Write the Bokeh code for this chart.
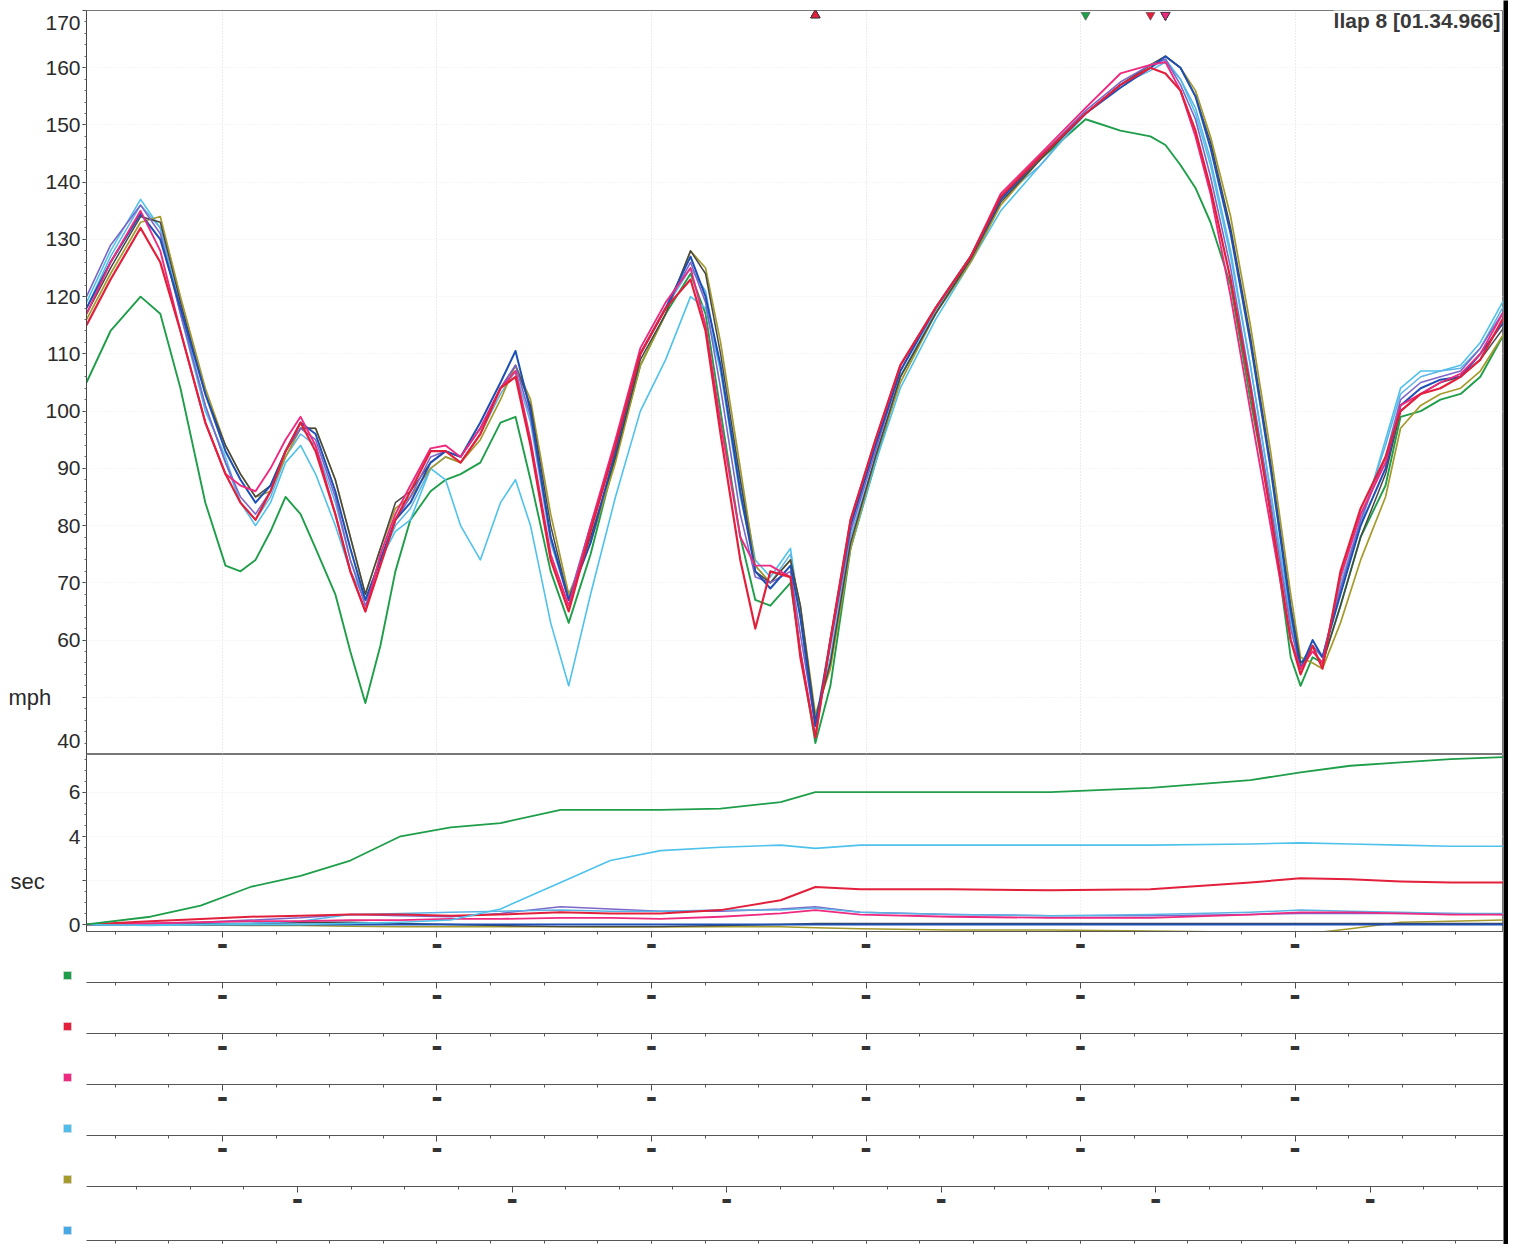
import numpy as np
from bokeh.plotting import figure
from bokeh.layouts import column, row
from bokeh.models import Range1d, FixedTicker, SingleIntervalTicker, Label
from bokeh.core.properties import value
from bokeh.embed import file_html
from bokeh.resources import INLINE

# ---------------- data ----------------
# distance along the lap (m) for the speed traces
dist = [0, 56, 126, 172, 219, 277, 324, 359, 394, 429,
        464, 499, 534, 580, 615, 650, 685, 720, 755, 802,
        837, 872, 918, 965, 1000, 1035, 1082, 1124, 1175, 1233,
        1291, 1350, 1408, 1443, 1478, 1524, 1559, 1594, 1641, 1664,
        1699, 1734, 1781, 1839, 1897, 1979, 2061, 2131, 2224, 2329,
        2410, 2480, 2515, 2550, 2585, 2620, 2667, 2713, 2760, 2807,
        2830, 2858, 2881, 2923, 2970, 3028, 3063, 3110, 3156, 3203,
        3249, 3308]

spd_blue = [118, 126, 134.5, 130, 118, 103, 93, 88, 84, 87,
            93, 98, 96, 86, 76, 67, 74, 81, 84, 91,
            93, 92, 98, 105, 110.5, 100, 78, 67, 77, 93,
            110, 118, 127, 120, 108, 86, 72, 69, 73, 64,
            45, 60, 80, 94, 107, 118, 127, 137, 144.5, 152,
            156.5, 160, 162, 160, 155, 146, 131, 112, 90, 65,
            55, 60, 57, 68, 80, 90, 101, 104, 105.5, 106,
            110, 116]
spd_green = [105, 114, 120, 117, 104, 84, 73, 72, 74, 79,
             85, 82, 76, 68, 58, 49, 59, 72, 81, 86,
             88, 89, 91, 98, 99, 88, 72, 63, 75, 92,
             108, 117, 124, 117, 100, 78, 67, 66, 70, 58,
             42, 52, 76, 91, 106, 117, 127, 137, 144, 151,
             149, 148, 146.5, 143, 139, 133, 122, 102, 83, 57,
             52, 57, 56, 66, 78, 87, 99, 100, 102, 103,
             106, 114]
spd_red = [115, 123, 132, 126, 114, 98, 89, 84, 81, 86,
           93, 98, 93, 82, 72, 65, 73, 81, 86, 93,
           93, 91, 96, 104, 106, 94, 74, 65, 79, 94,
           110, 118, 123, 114, 96, 74, 62, 72, 71, 57,
           43, 60, 81, 95, 108, 118, 127, 137.5, 144.5, 152,
           157, 160, 159, 156, 149, 139, 123, 104, 82, 60,
           54, 59, 55, 72, 83, 92, 100, 103, 104, 106,
           109, 117]
spd_pink = [117, 126, 135, 128, 114, 98, 89, 87, 86, 90,
            95, 99, 94, 82, 72, 65, 75, 82, 87, 93.5,
            94, 92, 97, 104, 107, 95, 75, 66, 80, 95,
            111, 119, 125, 115, 98, 78, 73, 73, 71, 58,
            43, 60, 81, 95, 108, 118, 127, 138, 145, 153,
            159, 160.5, 161, 156, 148, 138, 120, 100, 80, 60,
            55, 58, 56, 71, 82, 91, 101, 103, 105, 106.5,
            110, 118]
spd_cyan = [119, 128, 137, 132, 117, 100, 92, 84, 80, 84,
            91, 94, 89, 80, 72, 67, 74, 79, 81, 90,
            88, 80, 74, 84, 88, 80, 63, 52, 68, 85,
            100, 109, 120, 118, 107, 88, 74, 71, 76, 64,
            46, 56, 76, 91, 104, 116, 126, 135, 143, 152,
            157, 160, 161.5, 158, 152, 143, 127, 108, 86, 64,
            56, 59, 57, 69, 80, 95, 104, 107, 107, 108,
            112, 120]
spd_olive = [116, 124, 133, 134, 120, 104, 94, 89, 85, 86,
             92, 97, 97, 88, 78, 68, 76, 83, 85, 90,
             92, 91, 95, 102, 108, 102, 82, 68, 77, 91,
             108, 117, 128, 125, 112, 90, 73, 70, 74, 66,
             47, 55, 76, 92, 105, 117, 126, 136, 144, 152,
             157, 160.5, 162, 160, 156, 148, 134, 115, 93, 68,
             57, 56, 55, 63, 74, 85, 97, 101, 103, 104,
             107, 114]
spd_purple = [120, 129, 136, 131, 117, 101, 91, 85, 82, 86,
              93, 97, 95, 85, 74, 66, 74, 81, 85, 92,
              93, 92, 97, 104, 108, 99, 78, 67, 80, 94,
              110, 118, 126, 119, 104, 82, 71, 70, 72, 61,
              45, 59, 79, 93, 107, 118, 127, 137, 144.5, 152.5,
              157.5, 160.5, 161.5, 157, 151, 141, 125, 105, 84, 62,
              55, 59, 57, 69, 81, 92, 102, 105, 106, 107,
              111, 118]
spd_dark = [117, 125, 134, 133, 119, 103, 94, 89, 85, 87,
            93, 97, 97, 88, 78, 68, 76, 84, 86, 91,
            93, 92, 97, 104, 108, 101, 80, 67, 78, 92,
            109, 117, 128, 124, 110, 88, 72, 70, 74, 66,
            46, 56, 77, 92, 106, 117, 126.5, 136.5, 144, 152,
            157, 160.5, 162, 160, 155, 147, 132, 113, 91, 66,
            56, 58, 56, 66, 78, 89, 100, 103, 105, 106,
            109, 115]
spd_sky = [118, 127, 136, 132, 118, 101, 91, 84, 81, 85,
           92, 96, 94, 84, 74, 67, 74, 80, 83, 90,
           92, 91, 96, 103, 107, 98, 77, 67, 80, 94,
           110, 118, 125, 121, 107, 85, 73, 70, 75, 64,
           45, 57, 78, 92, 106, 117.5, 127, 137, 143, 152,
           157, 159.5, 161, 158, 153, 144, 128, 108, 86, 63,
           55, 59, 57, 70, 81, 94, 103, 106, 107, 107.5,
           111, 119]

# time difference to the reference lap (s)
sec_dist = [0, 149, 266, 382, 499, 615, 732, 849, 965, 1105,
            1221, 1338, 1478, 1618, 1699, 1804, 2014, 2247, 2480, 2713,
            2830, 2946, 3063, 3180, 3308]
sec_green = [0, 0.35, 0.85, 1.7, 2.2, 2.9, 4.0, 4.4, 4.6, 5.2,
             5.2, 5.2, 5.25, 5.55, 6.0, 6.0, 6.0, 6.0, 6.2, 6.55,
             6.9, 7.2, 7.35, 7.5, 7.6]
sec_cyan = [0, -0.05, 0, 0, 0, 0.05, 0.1, 0.2, 0.7, 1.9,
            2.9, 3.35, 3.5, 3.6, 3.45, 3.6, 3.6, 3.6, 3.6, 3.65,
            3.7, 3.65, 3.6, 3.55, 3.55]
sec_red = [0, 0.15, 0.25, 0.35, 0.4, 0.45, 0.45, 0.4, 0.45, 0.55,
           0.5, 0.5, 0.65, 1.1, 1.7, 1.6, 1.6, 1.55, 1.6, 1.9,
           2.1, 2.05, 1.95, 1.9, 1.9]
sec_pink = [0, 0.05, 0.1, 0.15, 0.15, 0.2, 0.2, 0.25, 0.25, 0.3,
            0.3, 0.25, 0.35, 0.5, 0.65, 0.45, 0.35, 0.3, 0.3, 0.45,
            0.55, 0.55, 0.5, 0.45, 0.45]
sec_sky = [0, 0, 0, 0.05, 0.15, 0.45, 0.5, 0.55, 0.6, 0.65,
           0.6, 0.6, 0.65, 0.65, 0.75, 0.55, 0.45, 0.4, 0.45, 0.55,
           0.65, 0.6, 0.55, 0.5, 0.5]
sec_purple = [0, 0.05, 0.1, 0.2, 0.3, 0.45, 0.4, 0.35, 0.5, 0.8,
              0.7, 0.6, 0.6, 0.7, 0.8, 0.55, 0.45, 0.4, 0.4, 0.45,
              0.5, 0.5, 0.5, 0.5, 0.45]
sec_dark = [0, 0, 0.05, 0.05, 0.1, 0.1, 0.05, 0, -0.05, -0.1,
            -0.1, -0.1, -0.05, 0, 0.05, 0.05, 0.05, 0.05, 0.05, 0.05,
            0.05, 0.05, 0.05, 0.05, 0.05]
sec_olive = [0, 0, -0.02, -0.05, -0.05, -0.08, -0.1, -0.1, -0.1, -0.1,
             -0.12, -0.12, -0.1, -0.1, -0.15, -0.2, -0.25, -0.25, -0.3, -0.35,
             -0.45, -0.2, 0.1, 0.15, 0.2]
sec_blue = [0, 0, 0, 0, 0, 0, 0, 0, 0, 0,
            0, 0, 0, 0, 0, 0, 0, 0, 0, 0,
            0, 0, 0, 0, 0]

lap_title = "llap 8 [01.34.966]"
speed_unit = "mph"
time_unit = "sec"
# speed tick labels (the end labels are drawn inset, as in the logger print-out)
speed_label_pos = [42.3, 60, 70, 80, 90, 100, 110, 120, 130, 140, 150, 160, 167.9]
speed_label_txt = ["40", "60", "70", "80", "90", "100", "110", "120", "130",
                   "140", "150", "160", "170"]
sec_label_pos = [0, 4, 6]
sec_label_txt = ["0", "4", "6"]
dist_major = [317, 817, 1317, 1817, 2317, 2817]
dist_major_shifted = [492, 992, 1492, 1992, 2492, 2992]
channel_rows = [0, 1, 2, 3, 4, 5]

# ---------------- style ----------------
FONT = "Liberation Sans"
TXT = "#2a2a2a"
X_END = 3303
GUT = 81
W = 1422
C = dict(green="#1f9e4a", red="#e3203c", pink="#ee2a80", cyan="#4fc2ec",
         olive="#a59a2c", blue="#1d4fb4", purple="#7c66c8", dark="#474747",
         sky="#5ab4e6")

minor_std = [67 + 125 * k for k in range(27)]
minor_shift = [117 + 125 * k for k in range(26)]
dash = "\u25ac"

xr = Range1d(0, X_END)
yr_speed = Range1d(40, 170)
yr_sec = Range1d(-0.32, 7.71)


def bare(fig):
    fig.xgrid.visible = False
    fig.ygrid.visible = False
    return fig


def style_yaxis(ax):
    ax.axis_line_color = "#444444"
    ax.major_tick_out = 4
    ax.major_tick_in = 0
    ax.minor_tick_out = 2
    ax.minor_tick_in = 0
    ax.major_tick_line_color = "#444444"
    ax.minor_tick_line_color = "#666666"
    ax.major_label_standoff = 0


def style_xaxis(ax, majors, minors, labels=True):
    ax.ticker = FixedTicker(ticks=majors if labels else [], minor_ticks=minors)
    ax.axis_line_color = "#555555"
    ax.major_tick_out = 6
    ax.major_tick_in = 0
    ax.minor_tick_out = 3
    ax.minor_tick_in = 0
    ax.major_tick_line_color = "#444444"
    ax.minor_tick_line_color = "#555555"
    ax.major_label_overrides = {m: dash for m in majors}
    ax.major_label_text_font = "DejaVu Sans"
    ax.major_label_text_font_size = "11px"
    ax.major_label_text_color = "#333333"
    ax.major_label_standoff = 1


# ---------------- speed panel ----------------
p1 = figure(width=W, height=754, x_range=xr, y_range=yr_speed,
            output_backend="svg", toolbar_location=None, x_axis_location=None,
            min_border_left=5, min_border_right=0, min_border_top=10,
            min_border_bottom=0, outline_line_color="#777777")
p1.yaxis.ticker = SingleIntervalTicker(interval=10, num_minor_ticks=5)
p1.yaxis.major_label_overrides = {v: "" for v in range(40, 180, 10)}
style_yaxis(p1.yaxis)
p1.xgrid.ticker = FixedTicker(ticks=dist_major)
p1.xgrid.grid_line_color = "#d8d8d8"
p1.xgrid.grid_line_dash = "1 2"
p1.ygrid.grid_line_color = "#ececec"
p1.ygrid.grid_line_dash = "1 2"

speed_traces = [(spd_green, C["green"], 1.9), (spd_cyan, C["cyan"], 1.6),
                (spd_sky, C["sky"], 1.5), (spd_olive, C["olive"], 1.7),
                (spd_dark, C["dark"], 1.5), (spd_purple, C["purple"], 1.6),
                (spd_blue, C["blue"], 2.0), (spd_pink, C["pink"], 1.9),
                (spd_red, C["red"], 2.2)]
for spd, col, lw in speed_traces:
    p1.line(dist, spd, line_color=col, line_width=lw, line_join="round")

for spd, col, lw in speed_traces:
    i_min = int(np.argmin(spd))
    i_max = int(np.argmax(spd))
    p1.scatter([dist[i_min]], [169.2], marker="triangle", size=9,
               fill_color=col, line_color="#333333", line_width=0.5)
    p1.scatter([dist[i_max]], [169.2], marker="inverted_triangle", size=9,
               fill_color=col, line_color="#333333", line_width=0.5)

p1.add_layout(Label(x=X_END, y=168.3, x_offset=-3, text=lap_title,
                    text_align="right", text_baseline="middle",
                    text_font=FONT, text_font_size="21px",
                    text_font_style="bold", text_color="#3a3a3a",
                    background_fill_color="white"))

# ---------------- time-difference panel ----------------
p2 = figure(width=W, height=200, x_range=xr, y_range=yr_sec,
            output_backend="svg", toolbar_location=None,
            min_border_left=5, min_border_right=0, min_border_top=0,
            min_border_bottom=22, outline_line_color="#777777")
p2.yaxis.ticker = SingleIntervalTicker(interval=2, num_minor_ticks=4)
p2.yaxis.major_label_overrides = {v: "" for v in range(-2, 10, 2)}
style_yaxis(p2.yaxis)
style_xaxis(p2.xaxis, dist_major, minor_std)
p2.xgrid.ticker = FixedTicker(ticks=dist_major)
p2.xgrid.grid_line_color = "#e2e2e2"
p2.xgrid.grid_line_dash = "1 2"
p2.ygrid.grid_line_color = "#eeeeee"
p2.ygrid.grid_line_dash = "1 2"

sec_traces = [(sec_olive, C["olive"], 1.5), (sec_dark, C["dark"], 1.4),
              (sec_blue, C["blue"], 2.0), (sec_purple, C["purple"], 1.5),
              (sec_sky, C["sky"], 1.5), (sec_pink, C["pink"], 1.8),
              (sec_red, C["red"], 2.0), (sec_cyan, C["cyan"], 1.6),
              (sec_green, C["green"], 1.8)]
for s, col, lw in sec_traces:
    p2.line(sec_dist, s, line_color=col, line_width=lw, line_join="round")

# ---------------- channel strips ----------------
strip_colors = [C["green"], C["red"], C["pink"], "#4fbde9", C["olive"], "#45a9e6"]
strip_majors = [dist_major, dist_major, dist_major, dist_major,
                dist_major_shifted, dist_major]
strip_minors = [minor_std, minor_std, minor_std, minor_std, minor_shift, minor_std]

strips = []
for k in channel_rows:
    last = k == channel_rows[-1]
    sp = bare(figure(width=W, height=35 if last else 51,
                     x_range=xr, y_range=Range1d(0, 1),
                     output_backend="svg", toolbar_location=None,
                     y_axis_location=None, min_border_left=5, min_border_right=0,
                     min_border_top=0, min_border_bottom=4 if last else 20,
                     outline_line_color=None))
    style_xaxis(sp.xaxis, strip_majors[k],
                strip_minors[k] + ([] if not last else strip_majors[k]),
                labels=not last)
    if last:
        sp.xaxis.major_label_standoff = 0
    strips.append(sp)

# ---------------- left gutter: axis texts and channel swatches ----------------
g1 = bare(figure(width=GUT, height=754, x_range=Range1d(0, GUT), y_range=yr_speed,
                 output_backend="svg", toolbar_location=None,
                 x_axis_location=None, y_axis_location=None, min_border_left=0,
                 min_border_right=0, min_border_top=10, min_border_bottom=0,
                 outline_line_color=None))
g1.text(x=[80] * len(speed_label_pos), y=speed_label_pos, text=speed_label_txt,
        text_align="right", text_baseline="middle", text_font=value(FONT),
        text_font_size=value("21px"), text_color=TXT)
g1.text(x=[8], y=[50], text=[speed_unit], text_align="left",
        text_baseline="middle", text_font=value(FONT),
        text_font_size=value("22px"), text_color=TXT)

g2 = bare(figure(width=GUT, height=200, x_range=Range1d(0, GUT), y_range=yr_sec,
                 output_backend="svg", toolbar_location=None,
                 x_axis_location=None, y_axis_location=None, min_border_left=0,
                 min_border_right=0, min_border_top=0, min_border_bottom=22,
                 outline_line_color=None))
g2.text(x=[80] * len(sec_label_pos), y=sec_label_pos, text=sec_label_txt,
        text_align="right", text_baseline="middle", text_font=value(FONT),
        text_font_size=value("21px"), text_color=TXT)
g2.text(x=[10], y=[2], text=[time_unit], text_align="left",
        text_baseline="middle", text_font=value(FONT),
        text_font_size=value("22px"), text_color=TXT)

g3 = bare(figure(width=GUT, height=290, x_range=Range1d(0, GUT),
                 y_range=Range1d(5.276, -0.412),
                 output_backend="svg", toolbar_location=None,
                 x_axis_location=None, y_axis_location=None, min_border=0,
                 outline_line_color=None))
g3.scatter([67] * len(channel_rows), channel_rows, marker="square", size=8,
           fill_color=strip_colors, line_color="#dddddd", line_width=0.6)

# right-hand page edge
bar = bare(figure(width=5, height=1244, x_range=Range1d(0, 1), y_range=Range1d(0, 1),
                  output_backend="svg", toolbar_location=None,
                  x_axis_location=None, y_axis_location=None, min_border=0,
                  background_fill_color="black", border_fill_color="black",
                  outline_line_color=None))

layout = row(column(g1, g2, g3, spacing=0),
             column(p1, p2, *strips, spacing=0), bar, spacing=0)

with open("out.html", "w") as f:
    f.write(file_html(layout, INLINE))
